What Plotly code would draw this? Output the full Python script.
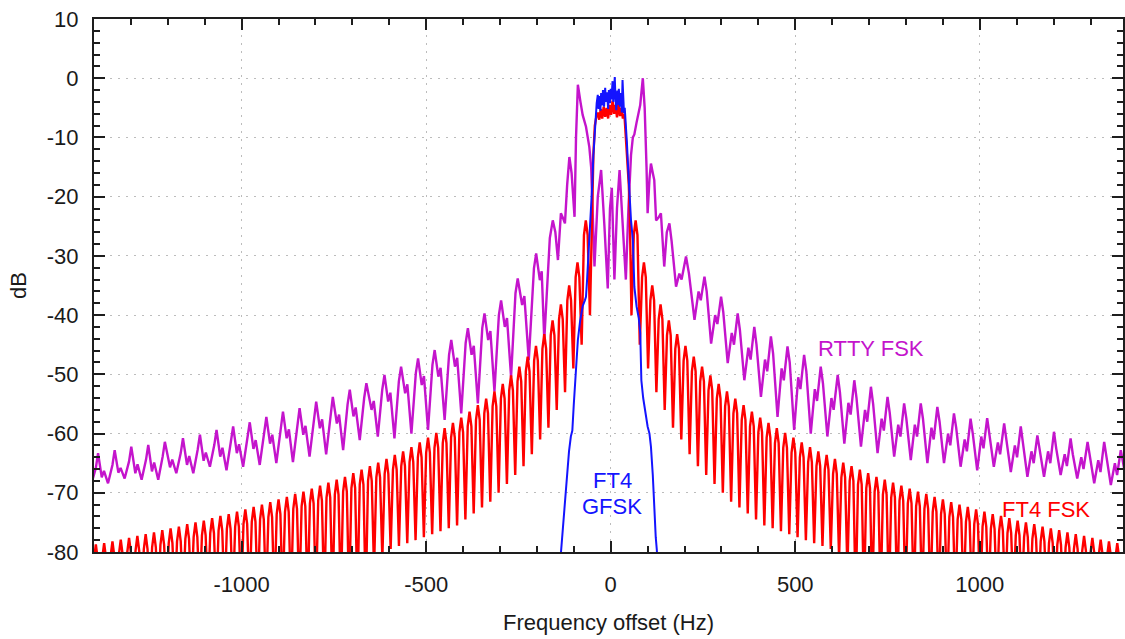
import plotly.graph_objects as go

# ---------------- axis ticks ----------------
x_tick_vals = [-1000, -500, 0, 500, 1000]
x_tick_text = ["-1000", "-500", "0", "500", "1000"]
y_tick_vals = [10, 0, -10, -20, -30, -40, -50, -60, -70, -80]
y_tick_text = ["10", "0", "-10", "-20", "-30", "-40", "-50", "-60", "-70", "-80"]

# ---------------- RTTY FSK (magenta) ----------------
rtty_freq = [
    -1412, -1407, -1395, -1389,
    -1379, -1373, -1362, -1350, -1344,
    -1334, -1328, -1317, -1305, -1299,
    -1288, -1282, -1271, -1259, -1253,
    -1243, -1237, -1226, -1214, -1208,
    -1194, -1188, -1177, -1165, -1159,
    -1148, -1142, -1131, -1119, -1113,
    -1103, -1097, -1086, -1074, -1068,
    -1058, -1052, -1041, -1029, -1023,
    -1013, -1007, -996, -984, -978,
    -968, -962, -951, -939, -933,
    -923, -917, -906, -894, -888,
    -878, -872, -861, -849, -843,
    -833, -827, -816, -804, -798,
    -788, -782, -771, -759, -753,
    -742, -736, -725, -713, -707,
    -697, -691, -680, -668, -662,
    -648, -642, -631, -619, -613,
    -603, -597, -586, -574, -568,
    -557, -551, -540, -528, -522,
    -512, -506, -495, -483, -477,
    -467, -461, -450, -438, -432,
    -422, -416, -405, -393, -387,
    -377, -371, -360, -348, -342,
    -332, -326, -315, -303, -297,
    -287, -281, -270, -258, -252,
    -240, -234, -222, -208, -202,
    -192, -187, -180, -165, -157,
    -150, -143, -139, -135, -130, -124, -118, -112, -106, -98, -94, -89,
    -82, -76, -67, -58, -53, -48, -44, -35, -26, -17, -8, -2, 3, 10, 17, 24,
    32, 41, 48, 55, 60, 64, 70, 73, 80, 87,
    92, 97, 100, 105, 109, 114, 118, 123, 130, 136, 140, 145, 152, 159, 165,
    177, 186, 192, 204,
    212, 227, 238, 244, 254,
    260, 272, 283, 289, 299,
    305, 317, 328, 334, 344,
    350, 362, 373, 379, 389,
    395, 407, 418, 424, 434,
    440, 452, 463, 469, 479,
    485, 497, 508, 514, 524,
    530, 542, 553, 559, 569,
    575, 587, 598, 604, 615,
    621, 633, 644, 650, 660,
    666, 678, 689, 695, 705,
    711, 723, 734, 740, 750,
    756, 768, 779, 785, 795,
    801, 813, 824, 830, 840,
    846, 858, 869, 875, 885,
    891, 903, 914, 920, 930,
    936, 948, 959, 965, 975,
    981, 993, 1004, 1010, 1020,
    1026, 1038, 1049, 1055, 1066,
    1072, 1084, 1095, 1101, 1111,
    1117, 1129, 1140, 1146, 1156,
    1162, 1174, 1185, 1191, 1201,
    1207, 1219, 1230, 1236, 1246,
    1252, 1264, 1275, 1281, 1292,
    1298, 1310, 1321, 1327, 1337,
    1343, 1355, 1366, 1372, 1382,
    1388, 1400,
]
rtty_db = [
    -68.0, -68.5, -65.8, -63.3,
    -67.4, -66.3, -68.4, -65.3, -62.8,
    -66.6, -65.8, -67.6, -64.7, -62.2,
    -66.7, -65.2, -67.8, -64.4, -61.9,
    -66.4, -64.9, -67.8, -63.9, -61.4,
    -65.7, -64.4, -66.7, -63.3, -60.8,
    -65.3, -63.8, -66.7, -62.7, -60.2,
    -64.6, -63.2, -65.6, -61.9, -59.4,
    -63.9, -62.4, -66.2, -61.3, -58.8,
    -63.3, -61.8, -65.6, -60.6, -58.1,
    -62.6, -61.1, -65.3, -59.7, -57.2,
    -61.7, -60.2, -65.0, -58.8, -56.3,
    -60.8, -59.3, -64.8, -58.2, -55.7,
    -60.2, -58.7, -63.9, -57.1, -54.6,
    -59.1, -57.6, -63.5, -56.3, -53.8,
    -58.3, -56.8, -62.8, -55.1, -52.6,
    -57.1, -55.6, -61.1, -54.0, -51.5,
    -56.0, -54.5, -60.5, -52.6, -50.1,
    -54.6, -53.1, -60.8, -51.2, -48.7,
    -53.2, -51.7, -60.0, -49.8, -47.3,
    -51.8, -50.3, -59.4, -48.4, -45.9,
    -50.4, -48.9, -57.7, -46.7, -44.2,
    -48.7, -47.2, -56.6, -44.7, -42.2,
    -46.7, -45.2, -54.9, -42.2, -39.7,
    -44.2, -42.7, -52.9, -40.0, -37.5,
    -42.0, -40.5, -50.4, -36.3, -33.8,
    -38.3, -36.8, -47.6, -32.1, -29.6,
    -34.1, -32.6, -44.2, -27.0, -24.0,
    -26.0, -30.7, -26.0, -22.8, -23.5, -24.5, -18.0, -13.3, -16.0, -23.4, -10.0, -1.1,
    -4.0, -6.2, -8.2, -11.6, -15.0, -24.0, -31.8, -20.0, -15.5, -25.0, -35.5, -22.0, -18.5, -34.0, -22.0, -15.5,
    -24.0, -34.0, -22.0, -13.0, -10.0, -9.5, -7.5, -6.7, -4.5, 0.0,
    -5.0, -15.0, -22.8, -17.0, -14.4, -16.0, -17.2, -24.0, -23.5, -22.8, -27.0, -31.8, -26.0, -24.5, -27.5,
    -35.2, -33.0, -34.0, -30.1,
    -33.0, -40.8, -36.0, -37.5, -33.5,
    -36.0, -44.8, -40.0, -41.5, -36.9,
    -39.5, -48.1, -43.0, -45.0, -39.7,
    -42.5, -51.0, -45.5, -47.5, -42.0,
    -45.0, -53.8, -47.5, -49.5, -43.6,
    -46.5, -57.2, -49.0, -51.0, -45.3,
    -48.0, -59.4, -50.5, -52.5, -46.7,
    -49.5, -60.0, -52.5, -54.5, -48.7,
    -51.5, -60.5, -54.0, -56.0, -50.1,
    -53.0, -61.7, -54.8, -56.8, -51.0,
    -54.0, -62.2, -56.0, -58.0, -52.1,
    -55.0, -63.3, -57.5, -59.5, -53.8,
    -56.5, -63.9, -58.5, -60.5, -54.9,
    -57.5, -64.5, -58.5, -60.5, -54.9,
    -57.5, -65.0, -59.0, -61.0, -55.5,
    -58.0, -65.0, -60.0, -62.0, -56.6,
    -59.0, -65.6, -61.0, -63.0, -57.5,
    -60.0, -66.2, -60.5, -62.5, -57.4,
    -60.0, -65.6, -61.5, -63.5, -58.3,
    -61.0, -66.5, -62.0, -64.0, -58.8,
    -61.5, -67.3, -63.0, -65.0, -60.3,
    -62.5, -67.3, -63.0, -65.0, -59.7,
    -62.5, -67.0, -63.5, -65.5, -60.8,
    -63.5, -67.6, -64.0, -66.0, -61.4,
    -64.0, -68.4, -64.5, -66.5, -61.4,
    -64.0, -68.7, -65.0, -67.0, -62.8,
    -65.0, -69.0,
]

# ---------------- FT4 FSK (red) ----------------
ft4_fsk_freq = [
    -1406.25, -1400, -1395, -1390,
    -1383.75, -1377.5, -1372.5, -1367.5,
    -1361.25, -1355, -1350, -1345,
    -1338.75, -1332.5, -1327.5, -1322.5,
    -1316.25, -1310, -1305, -1300,
    -1293.75, -1287.5, -1282.5, -1277.5,
    -1271.25, -1265, -1260, -1255,
    -1248.75, -1242.5, -1237.5, -1232.5,
    -1226.25, -1220, -1215, -1210,
    -1203.75, -1197.5, -1192.5, -1187.5,
    -1181.25, -1175, -1170, -1165,
    -1158.75, -1152.5, -1147.5, -1142.5,
    -1136.25, -1130, -1125, -1120,
    -1113.75, -1107.5, -1102.5, -1097.5,
    -1091.25, -1085, -1080, -1075,
    -1068.75, -1062.5, -1057.5, -1052.5,
    -1046.25, -1040, -1035, -1030,
    -1023.75, -1017.5, -1012.5, -1007.5,
    -1001.25, -995, -990, -985,
    -978.75, -972.5, -967.5, -962.5,
    -956.25, -950, -945, -940,
    -933.75, -927.5, -922.5, -917.5,
    -911.25, -905, -900, -895,
    -888.75, -882.5, -877.5, -872.5,
    -866.25, -860, -855, -850,
    -843.75, -837.5, -832.5, -827.5,
    -821.25, -815, -810, -805,
    -798.75, -792.5, -787.5, -782.5,
    -776.25, -770, -765, -760,
    -753.75, -747.5, -742.5, -737.5,
    -731.25, -725, -720, -715,
    -708.75, -702.5, -697.5, -692.5,
    -686.25, -680, -675, -670,
    -663.75, -657.5, -652.5, -647.5,
    -641.25, -635, -630, -625,
    -618.75, -612.5, -607.5, -602.5,
    -596.25, -590, -585, -580,
    -573.75, -567.5, -562.5, -557.5,
    -551.25, -545, -540, -535,
    -528.75, -522.5, -517.5, -512.5,
    -506.25, -500, -495, -490,
    -483.75, -477.5, -472.5, -467.5,
    -461.25, -455, -450, -445,
    -438.75, -432.5, -427.5, -422.5,
    -416.25, -410, -405, -400,
    -393.75, -387.5, -382.5, -377.5,
    -371.25, -365, -360, -355,
    -348.75, -342.5, -337.5, -332.5,
    -326.25, -320, -315, -310,
    -303.75, -297.5, -292.5, -287.5,
    -281.25, -275, -270, -265,
    -258.75, -252.5, -247.5, -242.5,
    -236.25, -230, -225, -220,
    -213.75, -207.5, -202.5, -197.5,
    -191.25, -185, -180, -175,
    -168.75, -162.5, -157.5, -152.5,
    -146.25, -140, -135, -130,
    -123.75, -117.5, -112.5, -107.5,
    -101.25, -95, -90, -85,
    -78.75, -72.5, -67.5, -62.5,
    -56.25, -51, -47, -43, -39, -35, -31, -27, -23, -19, -15, -11, -7, -3,
    1, 5, 9, 13, 17, 21, 25, 29, 33, 37, 41, 45, 49, 52,
    56.25,
    62.5, 67.5, 72.5, 78.75,
    85, 90, 95, 101.25,
    107.5, 112.5, 117.5, 123.75,
    130, 135, 140, 146.25,
    152.5, 157.5, 162.5, 168.75,
    175, 180, 185, 191.25,
    197.5, 202.5, 207.5, 213.75,
    220, 225, 230, 236.25,
    242.5, 247.5, 252.5, 258.75,
    265, 270, 275, 281.25,
    287.5, 292.5, 297.5, 303.75,
    310, 315, 320, 326.25,
    332.5, 337.5, 342.5, 348.75,
    355, 360, 365, 371.25,
    377.5, 382.5, 387.5, 393.75,
    400, 405, 410, 416.25,
    422.5, 427.5, 432.5, 438.75,
    445, 450, 455, 461.25,
    467.5, 472.5, 477.5, 483.75,
    490, 495, 500, 506.25,
    512.5, 517.5, 522.5, 528.75,
    535, 540, 545, 551.25,
    557.5, 562.5, 567.5, 573.75,
    580, 585, 590, 596.25,
    602.5, 607.5, 612.5, 618.75,
    625, 630, 635, 641.25,
    647.5, 652.5, 657.5, 663.75,
    670, 675, 680, 686.25,
    692.5, 697.5, 702.5, 708.75,
    715, 720, 725, 731.25,
    737.5, 742.5, 747.5, 753.75,
    760, 765, 770, 776.25,
    782.5, 787.5, 792.5, 798.75,
    805, 810, 815, 821.25,
    827.5, 832.5, 837.5, 843.75,
    850, 855, 860, 866.25,
    872.5, 877.5, 882.5, 888.75,
    895, 900, 905, 911.25,
    917.5, 922.5, 927.5, 933.75,
    940, 945, 950, 956.25,
    962.5, 967.5, 972.5, 978.75,
    985, 990, 995, 1001.25,
    1007.5, 1012.5, 1017.5, 1023.75,
    1030, 1035, 1040, 1046.25,
    1052.5, 1057.5, 1062.5, 1068.75,
    1075, 1080, 1085, 1091.25,
    1097.5, 1102.5, 1107.5, 1113.75,
    1120, 1125, 1130, 1136.25,
    1142.5, 1147.5, 1152.5, 1158.75,
    1165, 1170, 1175, 1181.25,
    1187.5, 1192.5, 1197.5, 1203.75,
    1210, 1215, 1220, 1226.25,
    1232.5, 1237.5, 1242.5, 1248.75,
    1255, 1260, 1265, 1271.25,
    1277.5, 1282.5, 1287.5, 1293.75,
    1300, 1305, 1310, 1316.25,
    1322.5, 1327.5, 1332.5, 1338.75,
    1345, 1350, 1355, 1361.25,
    1367.5, 1372.5, 1377.5, 1383.75,
    1390, 1395, 1400, 1406.25,
]
ft4_fsk_db = [
    -88, -81.2, -78.7, -81.2,
    -88, -81.0, -78.5, -81.0,
    -88, -80.7, -78.2, -80.7,
    -88, -80.4, -77.9, -80.4,
    -88, -80.1, -77.6, -80.1,
    -88, -79.8, -77.3, -79.8,
    -88, -79.5, -77.0, -79.5,
    -88, -79.2, -76.7, -79.2,
    -88, -78.8, -76.3, -78.8,
    -88, -78.5, -76.0, -78.5,
    -88, -78.2, -75.7, -78.2,
    -88, -77.8, -75.3, -77.8,
    -88, -77.5, -75.0, -77.5,
    -88, -77.2, -74.7, -77.2,
    -88, -76.8, -74.3, -76.8,
    -88, -76.4, -73.9, -76.4,
    -88, -76.1, -73.6, -76.1,
    -88, -75.7, -73.2, -75.7,
    -88, -75.3, -72.8, -75.3,
    -88, -74.9, -72.4, -74.9,
    -88, -74.5, -72.0, -74.5,
    -88, -74.1, -71.6, -74.1,
    -88, -73.6, -71.1, -73.6,
    -88, -73.2, -70.7, -73.2,
    -88, -72.7, -70.2, -72.7,
    -88, -72.3, -69.8, -72.3,
    -88, -71.8, -69.3, -71.8,
    -88, -71.3, -68.8, -71.3,
    -88, -70.8, -68.3, -70.8,
    -88, -70.3, -67.8, -70.3,
    -88, -69.8, -67.3, -69.8,
    -88, -69.2, -66.7, -69.2,
    -88, -68.6, -66.1, -68.6,
    -88, -68.0, -65.5, -68.0,
    -83, -67.4, -64.9, -67.4,
    -81, -66.8, -64.3, -66.8,
    -79.5, -66.1, -63.6, -66.1,
    -79, -65.5, -63.0, -65.5,
    -78.5, -64.8, -62.3, -64.8,
    -78, -64.0, -61.5, -64.0,
    -77.5, -63.2, -60.7, -63.2,
    -77, -62.4, -59.9, -62.4,
    -76.5, -61.6, -59.1, -61.6,
    -76, -60.7, -58.2, -60.7,
    -75.5, -59.8, -57.3, -59.8,
    -74.5, -58.8, -56.3, -58.8,
    -73.5, -57.7, -55.2, -57.7,
    -72.5, -56.6, -54.1, -56.6,
    -71.5, -55.4, -52.9, -55.4,
    -70, -54.1, -51.6, -54.1,
    -68.5, -52.7, -50.2, -52.7,
    -67, -51.2, -48.7, -51.2,
    -65.5, -49.5, -47.0, -49.5,
    -63.5, -47.7, -45.2, -47.7,
    -61, -45.7, -43.2, -45.7,
    -59, -43.4, -40.9, -43.4,
    -56, -40.7, -38.2, -40.7,
    -53, -37.5, -35.0, -37.5,
    -49, -33.6, -31.1, -33.6,
    -45, -26.5, -24.0, -26.5,
    -40, -22, -13, -8, -6.5, -5.8, -7, -5.2, -6.8, -4.8, -6.5, -5, -6.8, -4.5,
    -6.2, -3.8, -6, -4.5, -6.6, -4.2, -6.4, -5, -6.8, -6, -9.9, -13, -18, -24,
    -40,
    -26.5, -24.0, -26.5, -45,
    -33.6, -31.1, -33.6, -49,
    -37.5, -35.0, -37.5, -53,
    -40.7, -38.2, -40.7, -56,
    -43.4, -40.9, -43.4, -59,
    -45.7, -43.2, -45.7, -61,
    -47.7, -45.2, -47.7, -63.5,
    -49.5, -47.0, -49.5, -65.5,
    -51.2, -48.7, -51.2, -67,
    -52.7, -50.2, -52.7, -68.5,
    -54.1, -51.6, -54.1, -70,
    -55.4, -52.9, -55.4, -71.5,
    -56.6, -54.1, -56.6, -72.5,
    -57.7, -55.2, -57.7, -73.5,
    -58.8, -56.3, -58.8, -74.5,
    -59.8, -57.3, -59.8, -75.5,
    -60.7, -58.2, -60.7, -76,
    -61.6, -59.1, -61.6, -76.5,
    -62.4, -59.9, -62.4, -77,
    -63.2, -60.7, -63.2, -77.5,
    -64.0, -61.5, -64.0, -78,
    -64.8, -62.3, -64.8, -78.5,
    -65.5, -63.0, -65.5, -79,
    -66.1, -63.6, -66.1, -79.5,
    -66.8, -64.3, -66.8, -81,
    -67.4, -64.9, -67.4, -83,
    -68.0, -65.5, -68.0, -88,
    -68.6, -66.1, -68.6, -88,
    -69.2, -66.7, -69.2, -88,
    -69.8, -67.3, -69.8, -88,
    -70.3, -67.8, -70.3, -88,
    -70.8, -68.3, -70.8, -88,
    -71.3, -68.8, -71.3, -88,
    -71.8, -69.3, -71.8, -88,
    -72.3, -69.8, -72.3, -88,
    -72.7, -70.2, -72.7, -88,
    -73.2, -70.7, -73.2, -88,
    -73.6, -71.1, -73.6, -88,
    -74.1, -71.6, -74.1, -88,
    -74.5, -72.0, -74.5, -88,
    -74.9, -72.4, -74.9, -88,
    -75.3, -72.8, -75.3, -88,
    -75.7, -73.2, -75.7, -88,
    -76.1, -73.6, -76.1, -88,
    -76.4, -73.9, -76.4, -88,
    -76.8, -74.3, -76.8, -88,
    -77.2, -74.7, -77.2, -88,
    -77.5, -75.0, -77.5, -88,
    -77.8, -75.3, -77.8, -88,
    -78.2, -75.7, -78.2, -88,
    -78.5, -76.0, -78.5, -88,
    -78.8, -76.3, -78.8, -88,
    -79.2, -76.7, -79.2, -88,
    -79.5, -77.0, -79.5, -88,
    -79.8, -77.3, -79.8, -88,
    -80.1, -77.6, -80.1, -88,
    -80.4, -77.9, -80.4, -88,
    -80.7, -78.2, -80.7, -88,
    -81.0, -78.5, -81.0, -88,
    -81.2, -78.7, -81.2, -88,
]

# ---------------- FT4 GFSK (blue) ----------------
gfsk_freq = [
    -150, -135, -128, -120, -113, -108, -104, -100, -95, -89, -83, -76, -70, -67,
    -64, -60, -56, -53, -50, -47, -44, -41, -38, -35, -33, -31, -28, -26, -23,
    -21, -18, -15, -13, -10, -7, -5, -2, 0, 2, 5, 7, 9, 11, 13, 15, 18, 20, 22,
    25, 28, 30, 32, 34, 36, 38, 41, 44, 47, 51, 55, 60, 64, 70, 76, 80, 83, 88,
    94, 100, 105, 109, 114, 118, 122, 125, 132,
]
gfsk_db = [
    -92, -80, -75, -68, -63, -60.5, -59.5, -55, -50, -44.2, -41, -38.5, -37.5, -36.9,
    -34, -30, -26, -22.8, -18, -13, -9.9, -6.5, -4.2, -2.8, -5.2, -3, -5.5, -2.5, -4.6,
    -2, -4.8, -1.6, -4, -2.4, -5.2, -2, -4.2, -1.8, -3.6, -0.5, -4, -2.2, 0.2, -3.5, -5.4, -2.1, -4.5, -1.8,
    -4.8, -2.5, -5.8, -0.3, -4, -5.9, -5, -7.6, -11, -15, -19.5, -24, -27.3, -35.2, -38.5, -40.5, -43, -51, -54,
    -56.5, -58.8, -60, -62.2, -67, -73.4, -77.5, -79.7, -90,
]

# ---------------- labels ----------------
label_texts = ["RTTY FSK", "FT4 FSK", "FT4", "GFSK"]
label_freq = [706, 1180, 4, 4]
label_db = [-45.6, -72.9, -68.0, -72.4]

RTTY_COLOR = "#c414cc"
FSK_COLOR = "#ff0000"
GFSK_COLOR = "#1414ff"
label_colors = [RTTY_COLOR, FSK_COLOR, GFSK_COLOR, GFSK_COLOR]

FONT = "Liberation Sans, Arial, sans-serif"
AXIS_COLOR = "#1e1e1e"

fig = go.Figure()
fig.add_trace(go.Scatter(x=rtty_freq, y=rtty_db, mode="lines",
                         line=dict(color=RTTY_COLOR, width=2.4), name="RTTY FSK"))
fig.add_trace(go.Scatter(x=ft4_fsk_freq, y=ft4_fsk_db, mode="lines",
                         line=dict(color=FSK_COLOR, width=2.4), name="FT4 FSK"))
fig.add_trace(go.Scatter(x=gfsk_freq, y=gfsk_db, mode="lines",
                         line=dict(color=GFSK_COLOR, width=2.0), name="FT4 GFSK"))

for t, fx, fy, c in zip(label_texts, label_freq, label_db, label_colors):
    fig.add_annotation(x=fx, y=fy, text=t, showarrow=False,
                       xanchor="center", yanchor="middle", borderpad=0,
                       font=dict(family=FONT, size=22, color=c))

common_axis = dict(
    showline=True, linecolor=AXIS_COLOR, linewidth=2, mirror="ticks",
    ticks="inside", ticklen=11, tickwidth=2, tickcolor=AXIS_COLOR,
    showgrid=True, gridcolor="#bcbcbc", gridwidth=1, griddash="2px,6px",
    zeroline=False,
    tickfont=dict(family=FONT, size=22, color="#1a1a1a"),
)

fig.update_layout(
    width=1125, height=639,
    margin=dict(l=94, r=0, t=19, b=87),
    paper_bgcolor="white", plot_bgcolor="white",
    showlegend=False,
    font=dict(family=FONT, size=22, color="#1a1a1a"),
    xaxis=dict(
        range=[-1400, 1388], tickmode="array",
        tickvals=x_tick_vals, ticktext=x_tick_text,
        ticklabelstandoff=12,
        minor=dict(tickmode="linear", tick0=0, dtick=100, ticks="inside",
                   ticklen=6, tickwidth=2, tickcolor=AXIS_COLOR, showgrid=False),
        title=dict(text="Frequency offset (Hz)", standoff=18,
                   font=dict(family=FONT, size=22, color="#1a1a1a")),
        **common_axis,
    ),
    yaxis=dict(
        range=[-80, 10], tickmode="array",
        tickvals=y_tick_vals, ticktext=y_tick_text,
        ticklabelstandoff=9,
        minor=dict(tickmode="linear", tick0=0, dtick=2, ticks="inside",
                   ticklen=6, tickwidth=2, tickcolor=AXIS_COLOR, showgrid=False),
        title=dict(text="dB", standoff=14,
                   font=dict(family=FONT, size=22, color="#1a1a1a")),
        **common_axis,
    ),
)

fig.write_html("out.html", config={"displayModeBar": False},
               post_script="document.body.style.margin='0';document.body.style.overflow='hidden';")
